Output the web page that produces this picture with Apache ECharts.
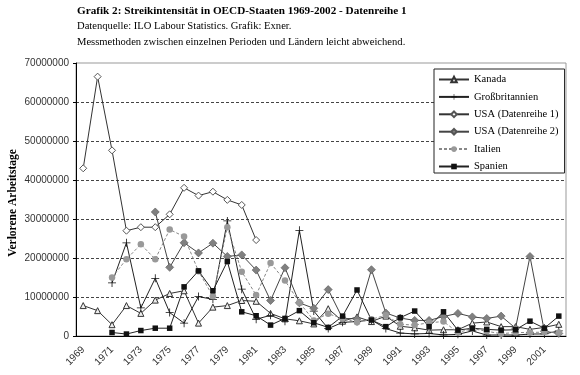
<!DOCTYPE html>
<html><head><meta charset="utf-8">
<script src="https://cdn.jsdelivr.net/npm/echarts@6/dist/echarts.min.js"></script>
<style>html,body{margin:0;padding:0;background:#fff}#c{width:580px;height:375px}</style>
</head><body><div id="c"></div>
<script>
const years = ['1969','1970','1971','1972','1973','1974','1975','1976','1977','1978','1979','1980','1981','1982','1983','1984','1985','1986','1987','1988','1989','1990','1991','1992','1993','1994','1995','1996','1997','1998','1999','2000','2001','2002'];
const kanada = [7800000,6500000,2900000,7800000,5800000,9200000,10900000,11600000,3300000,7400000,7800000,9100000,8900000,5800000,4400000,3900000,3100000,7000000,3800000,4900000,3700000,5100000,2500000,2100000,1500000,1600000,1600000,3300000,3600000,2400000,2400000,1700000,2200000,3000000];
const gb = [null,null,13600000,23900000,7200000,14800000,6000000,3300000,10100000,9400000,29500000,12000000,4300000,5300000,3800000,27100000,6400000,1900000,3500000,3700000,4100000,1900000,760000,530000,650000,280000,420000,1300000,240000,280000,240000,500000,530000,1300000];
const usa1 = [43000000,66500000,47600000,27000000,27900000,27900000,31200000,38000000,36000000,37000000,34900000,33600000,24600000,null,null,null,null,null,null,null,null,null,null,null,null,null,null,null,null,null,null,null,null,null];
const usa2 = [null,null,null,null,null,31800000,17600000,23900000,21300000,23800000,20400000,20800000,16900000,9100000,17500000,8500000,7100000,11900000,4500000,4400000,17000000,5900000,4600000,4000000,4000000,5000000,5800000,4900000,4500000,5100000,2000000,20400000,1200000,660000];
const italien = [null,null,15000000,19700000,23500000,19700000,27300000,25500000,16600000,10200000,27900000,16500000,10500000,18700000,14200000,8600000,4000000,5700000,4500000,3500000,4300000,5300000,3000000,2800000,3400000,3700000,900000,1900000,1200000,600000,900000,900000,1000000,900000];
const spanien = [null,null,900000,500000,1400000,2000000,2000000,12600000,16700000,11600000,19100000,6200000,5200000,2800000,4500000,6500000,3400000,2200000,5100000,11800000,4100000,2400000,4700000,6400000,2400000,6200000,1500000,2000000,1700000,1500000,1600000,3800000,2000000,5100000];
const names = ['Kanada','Großbritannien','USA (Datenreihe 1)','USA (Datenreihe 2)','Italien','Spanien'];
const titleLines = ['Grafik 2: Streikintensität in OECD-Staaten 1969-2002 - Datenreihe 1','Datenquelle: ILO Labour Statistics. Grafik: Exner.','Messmethoden zwischen einzelnen Perioden und Ländern leicht abweichend.'];
const yTitle = 'Verlorene Arbeitstage';

const serif = '"Liberation Serif", "Times New Roman", serif';
const sans = '"Liberation Sans", Arial, sans-serif';
const plus = 'path://M0,4.5h10v1h-10z M4.5,0h1v10h-1z';

function ser(name, data, symbol, size, itemStyle, lineStyle){
  return {name, type:'line', data, symbol, symbolSize:size, showAllSymbol:true,
    itemStyle, lineStyle: Object.assign({width:1}, lineStyle), emphasis:{disabled:true}};
}

const chart = echarts.init(document.getElementById('c'));
chart.setOption({
  animation:false,
  backgroundColor:'#fff',
  graphic:[
    {type:'text', left:77, top:6, style:{text:titleLines[0], font:'bold 11.2px '+serif, fill:'#000'}},
    {type:'text', left:77, top:21, style:{text:titleLines[1], font:'10.6px '+serif, fill:'#000'}},
    {type:'text', left:77, top:37, style:{text:titleLines[2], font:'10.6px '+serif, fill:'#000'}},
    {type:'text', x:13, y:203, rotation:Math.PI/2, style:{text:yTitle, font:'bold 11.5px '+serif, fill:'#000', align:'center', verticalAlign:'middle'}}
  ],
  grid:{left:76, right:14, top:63, bottom:39, show:true, borderColor:'#999', borderWidth:1},
  legend:{
    orient:'vertical', left:434, top:69, padding:[5,6,1,4], itemGap:6.4, itemWidth:30, itemHeight:7,
    backgroundColor:'#fff', borderColor:'#222', borderWidth:1,
    textStyle:{fontFamily:serif, fontSize:10.5, color:'#000'},
    data:names
  },
  xAxis:{
    type:'category', data:years, boundaryGap:true,
    axisLine:{lineStyle:{color:'#000', width:1}},
    axisTick:{interval:0, length:4, lineStyle:{color:'#000'}},
    axisLabel:{interval:1, rotate:45, fontFamily:sans, fontSize:10, color:'#333', margin:12}
  },
  yAxis:{
    type:'value', min:0, max:70000000, interval:10000000,
    axisLine:{show:true, lineStyle:{color:'#000'}},
    axisTick:{show:true, length:3, lineStyle:{color:'#000'}},
    axisLabel:{fontFamily:sans, fontSize:10, color:'#333', margin:7, formatter:function(v){return String(v);}},
    splitLine:{show:true, showMinLine:false, showMaxLine:false, lineStyle:{color:'#444', width:1, type:[3,2]}}
  },
  series:[
    ser(names[0], kanada, 'triangle', 6, {color:'#eee', borderColor:'#333', borderWidth:1}, {color:'#333'}),
    ser(names[1], gb, plus, 8, {color:'#111'}, {color:'#222'}),
    ser(names[2], usa1, 'diamond', 7, {color:'#fff', borderColor:'#555', borderWidth:1}, {color:'#333'}),
    ser(names[3], usa2, 'diamond', 8, {color:'#808080', borderColor:'#555', borderWidth:0.6}, {color:'#444'}),
    ser(names[4], italien, 'circle', 6.5, {color:'#999'}, {color:'#888', type:[3,2]}),
    ser(names[5], spanien, 'rect', 5.5, {color:'#111'}, {color:'#222'})
  ]
});
</script></body></html>
